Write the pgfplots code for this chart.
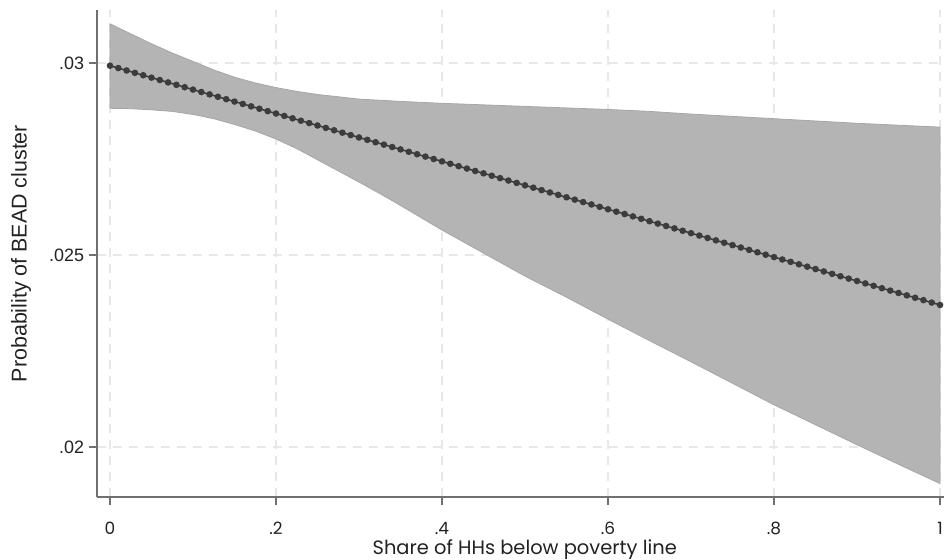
\documentclass[border=0pt]{standalone}
\usepackage{fontspec}
\setmainfont{Poppins}
\newfontfamily\arialf{Liberation Sans}
\usepackage{pgfplots}
\pgfplotsset{compat=1.18}
\definecolor{bandc}{HTML}{B4B4B4}
\definecolor{bandedge}{HTML}{A6A6A6}
\definecolor{linec}{HTML}{3C3C3C}
\definecolor{axc}{HTML}{707070}
\definecolor{gridc}{HTML}{E8E8E8}
\definecolor{txt}{HTML}{222222}

\pgfplotstableread{
x y
0.00 0.0299300
0.01 0.0298677
0.02 0.0298054
0.03 0.0297431
0.04 0.0296808
0.05 0.0296185
0.06 0.0295562
0.07 0.0294939
0.08 0.0294316
0.09 0.0293693
0.10 0.0293070
0.11 0.0292447
0.12 0.0291824
0.13 0.0291201
0.14 0.0290578
0.15 0.0289955
0.16 0.0289332
0.17 0.0288709
0.18 0.0288086
0.19 0.0287463
0.20 0.0286840
0.21 0.0286217
0.22 0.0285594
0.23 0.0284971
0.24 0.0284348
0.25 0.0283725
0.26 0.0283102
0.27 0.0282479
0.28 0.0281856
0.29 0.0281233
0.30 0.0280610
0.31 0.0279987
0.32 0.0279364
0.33 0.0278741
0.34 0.0278118
0.35 0.0277495
0.36 0.0276872
0.37 0.0276249
0.38 0.0275626
0.39 0.0275003
0.40 0.0274380
0.41 0.0273757
0.42 0.0273134
0.43 0.0272511
0.44 0.0271888
0.45 0.0271265
0.46 0.0270642
0.47 0.0270019
0.48 0.0269396
0.49 0.0268773
0.50 0.0268150
0.51 0.0267527
0.52 0.0266904
0.53 0.0266281
0.54 0.0265658
0.55 0.0265035
0.56 0.0264412
0.57 0.0263789
0.58 0.0263166
0.59 0.0262543
0.60 0.0261920
0.61 0.0261297
0.62 0.0260674
0.63 0.0260051
0.64 0.0259428
0.65 0.0258805
0.66 0.0258182
0.67 0.0257559
0.68 0.0256936
0.69 0.0256313
0.70 0.0255690
0.71 0.0255067
0.72 0.0254444
0.73 0.0253821
0.74 0.0253198
0.75 0.0252575
0.76 0.0251952
0.77 0.0251329
0.78 0.0250706
0.79 0.0250083
0.80 0.0249460
0.81 0.0248837
0.82 0.0248214
0.83 0.0247591
0.84 0.0246968
0.85 0.0246345
0.86 0.0245722
0.87 0.0245099
0.88 0.0244476
0.89 0.0243853
0.90 0.0243230
0.91 0.0242607
0.92 0.0241984
0.93 0.0241361
0.94 0.0240738
0.95 0.0240115
0.96 0.0239492
0.97 0.0238869
0.98 0.0238246
0.99 0.0237623
1.00 0.0237000
}\linetable

\begin{document}
\begin{tikzpicture}[x=1bp,y=1bp]
\begin{axis}[
  at={(97bp,63bp)}, anchor=south west,
  scale only axis, width=847bp, height=487bp,
  xmin=-0.01566, xmax=1.0048,
  ymin=0.0187, ymax=0.03138,
  scaled x ticks=false, scaled y ticks=false,
  axis x line*=bottom, axis y line*=left,
  axis line style={draw=axc, line width=1.3bp},
  every tick/.style={draw=axc, line width=1.3bp},
  tick align=outside, major tick length=8bp,
  xtick={0,0.2,0.4,0.6,0.8,1},
  xticklabels={0,.2,.4,.6,.8,1},
  ytick={0.02,0.025,0.03},
  yticklabels={.02,.025,.03},
  grid=major,
  grid style={draw=gridc, line width=1.2bp, dash pattern=on 9bp off 7bp},
  xticklabel style={font=\fontsize{17}{19}\selectfont, text=txt, anchor=base, yshift=-30bp, inner sep=0pt, outer sep=0pt},
  yticklabel style={font=\arialf\fontsize{18}{20}\selectfont, text=txt, anchor=east, xshift=-5bp, inner sep=0pt, outer sep=0pt},
  xlabel={Share of HHs below poverty line},
  xlabel style={font=\fontsize{19.5}{22}\selectfont, text=txt, at={(axis description cs:0.505,-0.1191)}, anchor=base, inner sep=0pt},
  ylabel={Probability of BEAD cluster},
  ylabel style={font=\arialf\fontsize{21.5}{24}\selectfont, text=txt, at={(axis description cs:-0.0897,0.5)}, anchor=center, inner sep=0pt},
]
\addplot[fill=bandc, draw=bandedge, line width=0.8bp] coordinates {
(0.000,0.03102) (0.025,0.03076) (0.050,0.03050) (0.075,0.03026) (0.100,0.03004)
(0.125,0.02982) (0.150,0.02963) (0.175,0.02948) (0.200,0.02936) (0.225,0.02926)
(0.250,0.02918) (0.275,0.02912) (0.300,0.02906) (0.350,0.02900) (0.400,0.02895)
(0.45,0.02891) (0.50,0.02887) (0.55,0.02883) (0.60,0.02879) (0.65,0.02874)
(0.70,0.02867) (0.75,0.02861) (0.80,0.02855) (0.85,0.02849) (0.90,0.02843)
(0.95,0.02838) (1.00,0.02833)
(1.00,0.01905) (0.95,0.01955) (0.90,0.02006) (0.85,0.02058) (0.80,0.02110)
(0.75,0.02166) (0.70,0.02222) (0.65,0.02277) (0.60,0.02333) (0.55,0.02390)
(0.50,0.02445) (0.45,0.02505)
(0.400,0.02565) (0.375,0.02597) (0.350,0.02629) (0.325,0.02660) (0.300,0.02690)
(0.275,0.02719) (0.250,0.02748) (0.225,0.02777) (0.200,0.02802) (0.175,0.02823)
(0.150,0.02840) (0.125,0.02855) (0.100,0.02866) (0.075,0.02874) (0.050,0.02878)
(0.025,0.02881) (0.000,0.02882)
} -- cycle;
\addplot[color=linec, line width=1.5bp, mark=*, mark size=2.5bp, mark options={fill=linec, draw=linec}] table[x=x, y=y] {\linetable};
\end{axis}
\pgfresetboundingbox
\useasboundingbox (0,0) rectangle (944,560);
\end{tikzpicture}
\end{document}
